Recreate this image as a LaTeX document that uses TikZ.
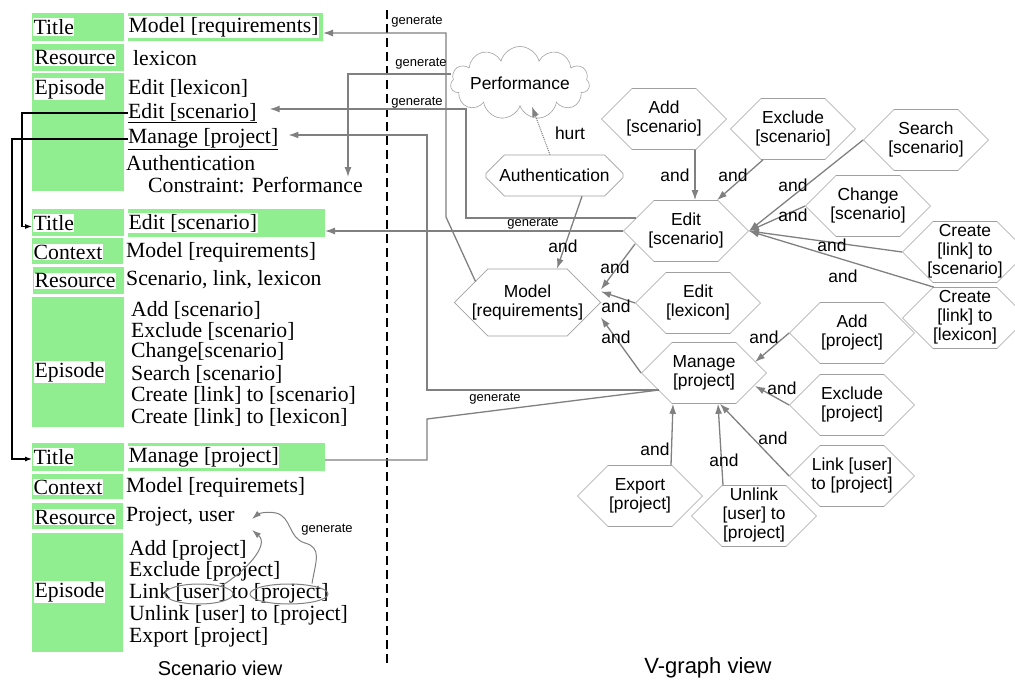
\documentclass[tikz,border=0pt]{standalone}
\usepackage{fontspec}
\setmainfont{Liberation Serif}
\newfontfamily\grfont{Liberation Sans}
\usetikzlibrary{arrows.meta,shapes.symbols,shapes.misc,shapes.geometric}
\definecolor{tgreen}{RGB}{144,238,144}
\definecolor{lgray}{RGB}{128,128,128}
\definecolor{hgray}{RGB}{160,160,160}
% zero-width centred stack, so the text does not widen a hexagon
\newcommand\stk[1]{\makebox[0pt]{\begin{tabular}{@{}c@{}}#1\end{tabular}}}
\tikzset{
  cell/.style={rectangle,fill=tgreen,inner sep=0,outer sep=0},
  lbl/.style={anchor=west,fill=white,inner xsep=.5pt,inner ysep=1pt,font=\fontsize{21.7}{21.4}\selectfont},
  txt/.style={anchor=west,inner sep=0,font=\fontsize{21.7}{21.4}\selectfont},
  goal/.style={shape=signal,signal to=east and west,signal pointer angle=90,draw=hgray,line width=.6pt,
    minimum width=125,minimum height=61,inner sep=0,font=\grfont\fontsize{17.4}{18.8}\selectfont},
  soft/.style={chamfered rectangle,draw=hgray,line width=.6pt,inner sep=0,align=center,
    font=\grfont\fontsize{17.4}{18.8}\selectfont},
  andlbl/.style={inner sep=0,font=\grfont\fontsize{17.4}{18}\selectfont},
  genlbl/.style={inner sep=0,font=\grfont\fontsize{13}{13}\selectfont},
  gen/.style={draw=lgray,line width=1.3pt},
  genarr/.style={gen,-{Latex[length=10pt,width=7pt]}},
  blk/.style={line width=1.1pt,-{Latex[length=7pt,width=5pt]}},
  ring/.style={ellipse,draw=lgray,line width=1pt,inner sep=0},
  viewtitle/.style={inner sep=0,font=\grfont\fontsize{20}{20}\selectfont}
}
\begin{document}
\begin{tikzpicture}[x=1pt,y=-1pt]
\useasboundingbox (0,0) rectangle (1015,682);

% scenario view: green cells
\node[cell,minimum width=92,minimum height=28] (t1l) at (78,27) {};
\node[cell,minimum width=195,minimum height=28] (t1r) at (225.5,27) {};
\node[cell,minimum width=92,minimum height=27] (r1l) at (78,57.5) {};
\node[cell,minimum width=92,minimum height=118] (p1l) at (78,132) {};
\node[cell,minimum width=92,minimum height=27] (t2l) at (78,222.5) {};
\node[cell,minimum width=197,minimum height=28] (t2r) at (226.5,223) {};
\node[cell,minimum width=91,minimum height=26] (c2l) at (77.5,251) {};
\node[cell,minimum width=91,minimum height=27] (r2l) at (78.5,280.5) {};
\node[cell,minimum width=92,minimum height=130] (p2l) at (78,362) {};
\node[cell,minimum width=92,minimum height=28] (t3l) at (78,457) {};
\node[cell,minimum width=197,minimum height=28] (t3r) at (226.5,457) {};
\node[cell,minimum width=91,minimum height=25] (c3l) at (77.5,486.5) {};
\node[cell,minimum width=91,minimum height=26] (r3l) at (77.5,516) {};
\node[cell,minimum width=91,minimum height=119] (p3l) at (77.5,592.5) {};

% first scenario
\node[lbl] (k1t) at (33,27) {Title};
\node[lbl] (v1t) at (128,27) {Model [requirements]};
\node[lbl] (k1r) at (34,58) {Resource};
\node[txt] (v1r) at (133,58) {lexicon};
\node[lbl] (k1e) at (34,89) {Episode};
\node[txt] (e1a) at (128,88) {Edit [lexicon]};
\node[txt] (esc1) at (128,113) {\underline{Edit [scenario]}};
\node[txt] (mpr1) at (128,139) {\underline{Manage [project]}};
\node[txt] (auth1) at (126,163) {Authentication};
\node[txt] (cons) at (148,185) {Constraint: Performance};

% second scenario
\node[lbl] (k2t) at (33,223) {Title};
\node[lbl] (v2t) at (128,223) {Edit [scenario]};
\node[lbl] (k2c) at (33,252) {Context};
\node[txt] (v2c) at (126,252) {Model [requirements]};
\node[lbl] (k2r) at (34,281) {Resource};
\node[txt] (v2r) at (126,280) {Scenario, link, lexicon};
\node[lbl] (k2e) at (34,372) {Episode};
\foreach \t [count=\i] in {{Add [scenario]},{Exclude [scenario]},{Change[scenario]},{Search [scenario]},{Create [link] to [scenario]},{Create [link] to [lexicon]}}
  \node[txt] (s2e\i) at (131,288.6+21.4*\i) {\t};

% third scenario
\node[lbl] (k3t) at (33,457) {Title};
\node[lbl] (v3t) at (128,457) {Manage [project]};
\node[lbl] (k3c) at (33,487) {Context};
\node[txt] (v3c) at (126,487) {Model [requiremets]};
\node[lbl] (k3r) at (34,517) {Resource};
\node[txt] (v3r) at (126,517) {Project, user};
\node[lbl] (k3e) at (34,592) {Episode};
\foreach \t [count=\i] in {{Add [project]},{Exclude [project]},{Link [user] to [project]},{Unlink [user] to [project]},{Export [project]}}
  \node[txt] (s3e\i) at (129,528.3+21.7*\i) {\t};

\draw[blk] (esc1.west) -- ++(-106,0) |- ([yshift=-4pt]t2l.west);
\draw[blk] (mpr1.west) -- ++(-116,0) |- ([yshift=-2pt]t3l.west);

% resources generated by the link episode
\node[ring,minimum width=68,minimum height=20] (usr) at (199,594) {};
\node[ring,minimum width=78,minimum height=20] (prj) at (289,594) {};
\draw[gen,line width=1pt,-{Latex[length=9pt,width=6pt]}] (usr.20) .. controls (245,572) and (270,545) .. (252,530);
\draw[gen,line width=1pt,-{Latex[length=9pt,width=6pt]}] ([xshift=23pt]prj.north) .. controls (316,560) and (322,548) .. (305,543)
  .. controls (288,538) and (292,517) .. (276,513) .. controls (266,511) and (258,514) .. (252,519);
\node[genlbl] (g6) at (327,530) {generate};

\draw[line width=1.3pt,dash pattern=on 9pt off 5pt] (387,10) -- (387,665);

% V-graph
\node[cloud,cloud puffs=11,cloud ignores aspect,draw=hgray,line width=.6pt,minimum width=118,minimum height=73,inner sep=0,
  font=\grfont\fontsize{17.4}{18}\selectfont] (perf) at (520,83) {Performance};
\node[soft,minimum width=137,minimum height=41,chamfered rectangle xsep=31pt,chamfered rectangle ysep=12pt] (auth) at (554.5,175.5) {Authentication};
\node[soft,minimum width=139,minimum height=61,chamfered rectangle xsep=40pt,chamfered rectangle ysep=16pt] (model) at (527.5,302.5) {Model\\{[requirements]}};

\node[goal] (addsc) at (664,119) {\stk{Add\\{[scenario]}}};
\node[goal] (exsc) at (793,129) {\stk{Exclude\\{[scenario]}}};
\node[goal] (srsc) at (926,140) {\stk{Search\\{[scenario]}}};
\node[goal] (chsc) at (868,206) {\stk{Change\\{[scenario]}}};
\node[goal] (edsc) at (686,231) {\stk{Edit\\{[scenario]}}};
\node[goal] (lksc) at (965,252) {\stk{Create\\{[link] to}\\{[scenario]}}};
\node[goal] (lklx) at (965,318) {\stk{Create\\{[link] to}\\{[lexicon]}}};
\node[goal] (edlx) at (698,303) {\stk{Edit\\{[lexicon]}}};
\node[goal] (mgpr) at (704,373) {\stk{Manage\\{[project]}}};
\node[goal] (adpr) at (852,333) {\stk{Add\\{[project]}}};
\node[goal] (expr) at (852,405) {\stk{Exclude\\{[project]}}};
\node[goal] (lkpr) at (852,476) {\stk{Link [user]\\to [project]}};
\node[goal] (unpr) at (754,516) {\stk{Unlink\\{[user] to}\\{[project]}}};
\node[goal] (xppr) at (640,496) {\stk{Export\\{[project]}}};

% and-decompositions
\draw[genarr] ([xshift=31pt]addsc.south) -- ([xshift=9pt]edsc.north);
\draw[genarr] ([xshift=-30pt]exsc.south) -- ([xshift=31pt]edsc.north);
\draw[genarr] (srsc.west) -- (edsc.east);
\draw[genarr] (chsc.west) -- (edsc.east);
\draw[genarr] (lksc.west) -- (edsc.east);
\draw[genarr] ([xshift=-31pt]lklx.north) -- (edsc.east);
\draw[genarr] ([xshift=-51pt,yshift=-13pt]edsc.center) -- ([yshift=13pt]model.east);
\draw[genarr] (edlx.west) -- ([yshift=11pt]model.east);
\draw[genarr] (mgpr.west) -- ([yshift=-15pt]model.east);
\draw[genarr] ([xshift=27.5pt]auth.south) -- ([xshift=29.5pt]model.north);
\draw[gen,line width=1pt,densely dotted,-{Latex[length=10pt,width=7pt]}] ([xshift=-4.5pt]auth.north) -- ([xshift=12pt]perf.south);
\draw[genarr] (adpr.west) -- ([xshift=51pt,yshift=11pt]mgpr.center);
\draw[genarr] (expr.west) -- ([xshift=51pt,yshift=-13pt]mgpr.center);
\draw[genarr] (lkpr.west) -- ([xshift=16pt]mgpr.south);
\draw[genarr] ([xshift=-31pt]unpr.north) -- ([xshift=14pt]mgpr.south);
\draw[genarr] ([xshift=31pt]xppr.north) -- ([xshift=-31pt]mgpr.south);

\node[andlbl] (a1) at (675,175) {and};
\node[andlbl] (a2) at (733,175) {and};
\node[andlbl] (a3) at (793,185) {and};
\node[andlbl] (a4) at (793,215) {and};
\node[andlbl] (a5) at (832,245) {and};
\node[andlbl] (a6) at (843,276) {and};
\node[andlbl] (a7) at (563,246) {and};
\node[andlbl] (a8) at (615,267) {and};
\node[andlbl] (a9) at (616,306) {and};
\node[andlbl] (a10) at (616,337) {and};
\node[andlbl] (a11) at (764,337) {and};
\node[andlbl] (a12) at (782,388) {and};
\node[andlbl] (a13) at (773,438) {and};
\node[andlbl] (a14) at (724,460) {and};
\node[andlbl] (a15) at (655,449) {and};
\node[andlbl] (hurt) at (570,133) {hurt};

% generate links between the views
\draw[genarr] ([xshift=-52pt,yshift=21pt]model.center) -- (446,217) -- (446,33) -- ([yshift=-6pt]t1r.east);
\draw[genarr] ([yshift=9pt]perf.west) -| (cons.north -| 348,0);
\draw[genarr] ([xshift=-50pt,yshift=13pt]edsc.center) -- (466,218) -- (466,109) -- ([xshift=13pt,yshift=4pt]esc1.east);
\draw[genarr] (edsc.west) -- (edsc.west -| t2r.east);
\draw[genarr] ([xshift=-45pt,yshift=-17pt]mgpr.center) -- (427,390) -- (427,135) -- ([xshift=10pt,yshift=4pt]mpr1.east);
\draw[gen] ([xshift=-45pt,yshift=-17pt]mgpr.center) -- (427,419) -- (427,460) -- ([yshift=-3pt]t3r.east);
\node[genlbl] (g1) at (417,22) {generate};
\node[genlbl] (g2) at (421,64) {generate};
\node[genlbl] (g3) at (417,103) {generate};
\node[genlbl] (g4) at (533,224) {generate};
\node[genlbl] (g5) at (495,399) {generate};

\node[viewtitle] (sview) at (220,668) {Scenario view};
\node[viewtitle,font=\grfont\fontsize{22}{22}\selectfont] (vview) at (708,668) {V-graph view};
\end{tikzpicture}
\end{document}
